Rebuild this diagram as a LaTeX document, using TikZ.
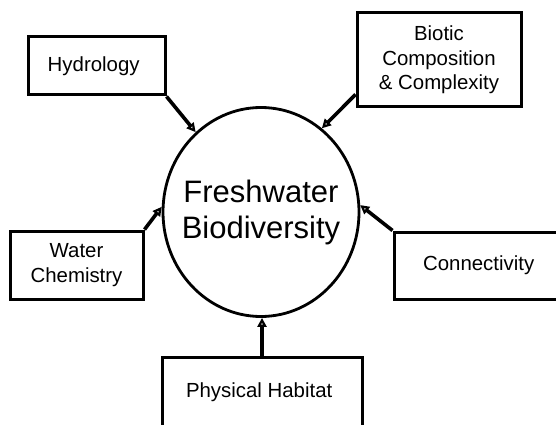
\documentclass[tikz,border=0pt]{standalone}
\usepackage{fontspec}
\setmainfont{Liberation Sans}
\usetikzlibrary{arrows.meta,shapes.geometric}

\tikzset{
    factor/.style={
        rectangle,
        draw,
        line width=3pt,
        align=center,
        font=\fontsize{20.4}{24.5}\selectfont
    },
    link/.style={
        line width=3.6pt,
        -{Triangle[open,length=9pt,width=9pt]}
    }
}

\begin{document}
\begin{tikzpicture}[x=1pt, y=-1pt]
        \useasboundingbox (0,0) rectangle (556,425);
        \clip (0,0) rectangle (556,425);

        \node (1) [
            ellipse,
            draw,
            line width=2.8pt,
            minimum width=196pt,
            minimum height=209pt,
            inner sep=0pt
        ] at (261,212) {};
        \node (1t) [
            align=center,
            font=\fontsize{31}{36}\selectfont
        ] at (1.center)
        {
            Freshwater\\Biodiversity
        };

        \node (2) [
            factor,
            minimum width=137pt,
            minimum height=58pt
        ] at (96.5,66)
        {
            Hydrology
        };

        \node (3) [
            factor,
            minimum width=164pt,
            minimum height=94pt
        ] at (439,60)
        {
            Biotic\\Composition\\\& Complexity
        };

        \node (4) [
            factor,
            minimum width=133pt,
            minimum height=68pt
        ] at (76.5,265)
        {
            Water\\Chemistry
        };

        \node (5) [
            factor,
            minimum width=175pt,
            minimum height=67pt
        ] at (481.5,265.5)
        {
            Connectivity
        };

        \node (6) [
            factor,
            minimum width=200pt,
            minimum height=70pt
        ] at (262,392)
        {
            Physical Habitat
        };

        \draw[link] (2.south east) -- (1);
        \draw[link] ([yshift=14pt]3.south west) -- (1.54);
        \draw[link] (4.north east) -- (1.177);
        \draw[link] (5.north west) -- (1.4);
        \draw[link] (6.north) -- (6.north |- 1.south);
    \end{tikzpicture}
\end{document}
